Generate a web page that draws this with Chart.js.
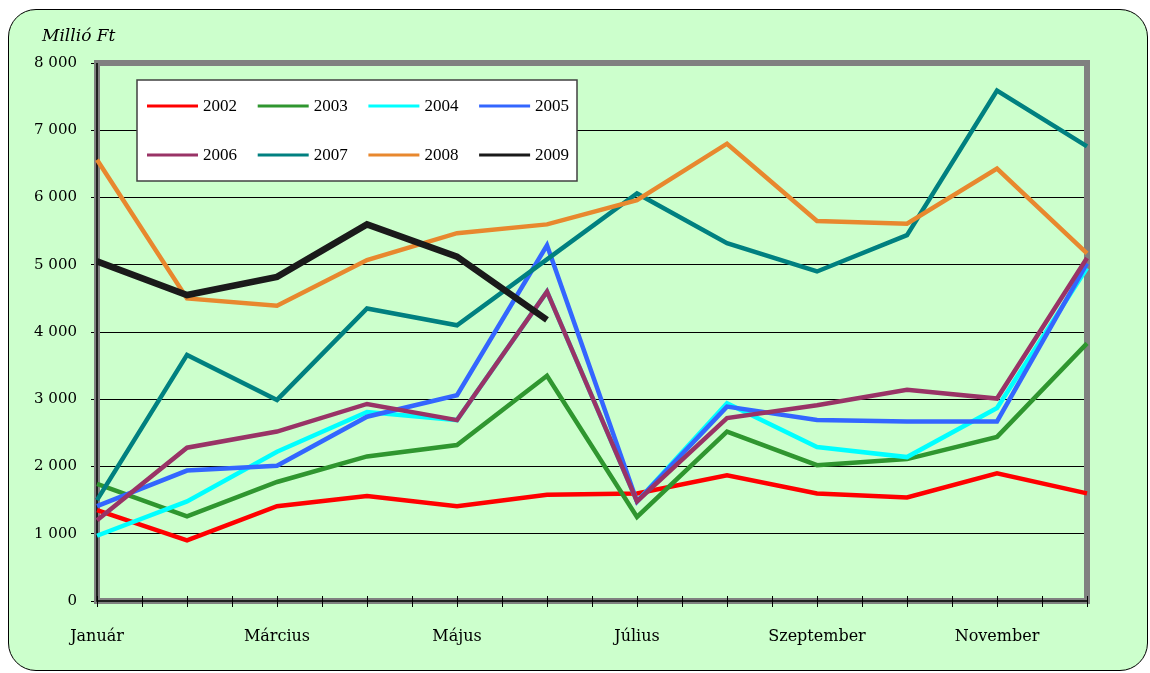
<!DOCTYPE html>
<html>
<head>
<meta charset="utf-8">
<script src="https://cdn.jsdelivr.net/npm/chart.js@4.4.1/dist/chart.umd.min.js"></script>
<style>
  html, body { margin: 0; padding: 0; background: #fff; }
  .frame {
    position: absolute; left: 8px; top: 9px; width: 1140px; height: 662px;
    box-sizing: border-box; border: 1px solid #000; border-radius: 28px;
    background: #ccffcc;
  }
  #wrap { position: absolute; left: 0; top: 0; width: 1150px; height: 673px; }
</style>
</head>
<body>
<div class="frame"></div>
<div id="wrap"><canvas id="line-chart"></canvas></div>
<script>
// Havi adatok, millió Ft
const months = ['Január', 'Február', 'Március', 'Április', 'Május', 'Június',
  'Július', 'Augusztus', 'Szeptember', 'Október', 'November', 'December'];
const years = ['2002', '2003', '2004', '2005', '2006', '2007', '2008', '2009'];
const yTicks = [0, 1000, 2000, 3000, 4000, 5000, 6000, 7000, 8000];

const v2002 = [1350, 900, 1410, 1560, 1410, 1580, 1600, 1870, 1600, 1540, 1900, 1600];
const v2003 = [1740, 1260, 1770, 2150, 2320, 3350, 1250, 2520, 2020, 2110, 2440, 3830];
const v2004 = [970, 1480, 2220, 2810, 2690, 4600, 1480, 2940, 2290, 2140, 2870, 4950];
const v2005 = [1410, 1940, 2010, 2740, 3060, 5290, 1480, 2890, 2690, 2670, 2670, 5020];
const v2006 = [1200, 2280, 2520, 2930, 2690, 4600, 1480, 2720, 2910, 3140, 3010, 5100];
const v2007 = [1500, 3660, 2990, 4350, 4100, 5080, 6060, 5320, 4900, 5440, 7590, 6760];
const v2008 = [6560, 4500, 4390, 5070, 5470, 5600, 5960, 6800, 5650, 5610, 6430, 5170];
const v2009 = [5050, 4550, 4820, 5600, 5120, 4180];

const colors = ['#ff0000', '#2f962f', '#00ffff', '#3366ff', '#993366', '#008080', '#e8882e', '#1a1a1a'];
const widths = [4.5, 4.5, 4.5, 4.5, 4.5, 4.5, 4.5, 6.5];
const series = [v2002, v2003, v2004, v2005, v2006, v2007, v2008, v2009];

const datasets = series.map((d, i) => ({
  label: years[i],
  data: d,
  borderColor: colors[i],
  backgroundColor: colors[i],
  borderWidth: widths[i],
  pointRadius: 0,
  tension: 0,
  fill: false,
  order: series.length - i   // Excel: a későbbi sorozat van felül
}));

// keret, tengelyek, egység felirat, jelmagyarázat
const decor = {
  id: 'decor',
  beforeDatasetsDraw(chart) {
    const { ctx, chartArea: a } = chart;
    ctx.save();
    ctx.strokeStyle = '#808080';
    ctx.lineWidth = 6;
    ctx.strokeRect(a.left, a.top, a.right - a.left, a.bottom - a.top);
    ctx.strokeStyle = '#000';
    ctx.lineWidth = 1.5;
    ctx.beginPath();
    ctx.moveTo(a.left, a.top);
    ctx.lineTo(a.left, a.bottom);
    ctx.lineTo(a.right, a.bottom);
    ctx.stroke();
    // osztásjelek félhavonta, a tengelyen át
    const xs = chart.scales.x;
    ctx.lineWidth = 1;
    for (let i = 0; i < months.length * 2 - 1; i++) {
      const px = Math.round(xs.getPixelForValue(i / 2)) + 0.5;
      ctx.beginPath();
      ctx.moveTo(px, a.bottom - 5);
      ctx.lineTo(px, a.bottom + 6);
      ctx.stroke();
    }
    ctx.restore();
  },
  afterDatasetsDraw(chart) {
    const { ctx } = chart;
    ctx.save();
    ctx.font = 'italic 17px "DejaVu Serif"';
    ctx.fillStyle = '#000';
    ctx.textBaseline = 'middle';
    ctx.fillText('Millió Ft', 42, 37);

    // legend box
    ctx.fillStyle = '#fff';
    ctx.fillRect(137, 80, 440, 101);
    ctx.strokeStyle = '#404040';
    ctx.lineWidth = 1.5;
    ctx.strokeRect(137, 80, 440, 101);
    ctx.font = '17px "Liberation Serif"';
    years.forEach((y, i) => {
      const col = i % 4, row = Math.floor(i / 4);
      const x = 147 + col * 110.7;
      const yy = 106 + row * 49;
      ctx.strokeStyle = colors[i];
      ctx.lineWidth = 3;
      ctx.beginPath();
      ctx.moveTo(x, yy);
      ctx.lineTo(x + 51, yy);
      ctx.stroke();
      ctx.fillStyle = '#000';
      ctx.fillText(y, x + 56, yy + 1);
    });
    ctx.restore();
  }
};

new Chart(document.getElementById('line-chart'), {
  type: 'line',
  data: { labels: months, datasets: datasets },
  options: {
    responsive: true,
    maintainAspectRatio: false,
    animation: false,
    layout: { padding: { top: 63, right: 63, left: 0, bottom: 0 } },
    plugins: { legend: { display: false }, tooltip: { enabled: false } },
    scales: {
      x: {
        offset: false,
        border: { display: false },
        grid: { display: false, drawTicks: false },
        ticks: {
          autoSkip: false, maxRotation: 0, color: '#000', padding: 26,
          font: { family: 'DejaVu Serif', size: 16 },
          callback: (v, i) => (i % 2 === 0 ? months[i] : '')
        },
        afterFit: s => { s.height = 72; }
      },
      y: {
        min: 0, max: 8000,
        border: { display: false },
        afterBuildTicks: s => { s.ticks = yTicks.map(v => ({ value: v })); },
        grid: { color: '#000', lineWidth: 1, tickLength: 6 },
        ticks: {
          color: '#000', padding: 14,
          font: { family: 'DejaVu Serif', size: 15 },
          callback: v => (v >= 1000 ? Math.floor(v / 1000) + ' 000' : String(v))
        },
        afterFit: s => { s.width = 97; }
      }
    }
  },
  plugins: [decor]
});
</script>
</body>
</html>
